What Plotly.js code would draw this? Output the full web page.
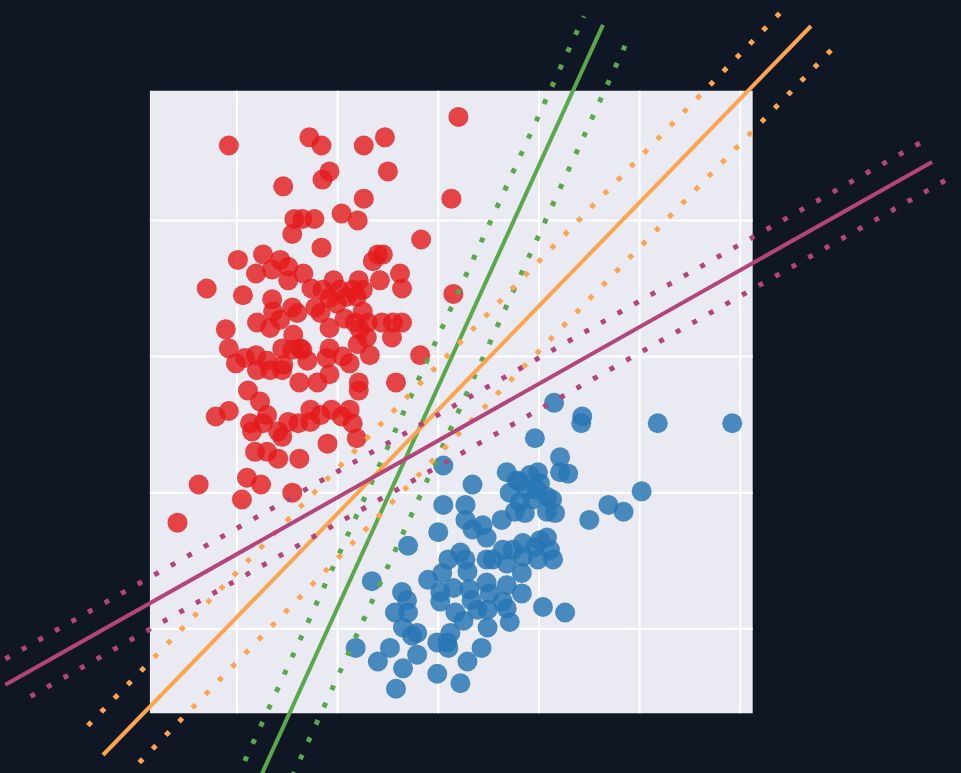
<!DOCTYPE html>
<html>
<head>
<meta charset="utf-8">
<script src="https://cdn.plot.ly/plotly-3.0.1.min.js"></script>
<style>
  html, body { margin: 0; padding: 0; background: #0f1725; }
  #plot { width: 961px; height: 773px; }
</style>
</head>
<body>
<div id="plot"></div>
<script>
// two point clouds and three separating lines with their margins

const redX = [-2.08, -1.28, -1.16, -0.74, -0.53, 0.20, -1.08, -1.15, -0.50, -1.54,
  -0.74, 0.13, -1.43, -1.35, -1.23, -0.96, -0.80, -1.45, -1.16, -0.17,
  -1.99, -1.74, -1.57, -1.65, -1.49, -1.34, -1.81, -1.49, -0.60, -0.65,
  -0.55, -0.38, -0.58, -0.36, -2.30, -1.94, 0.15, -1.04, -0.79, -1.26,
  -1.65, -1.15, -0.98, -0.85, -0.75, -0.91, -0.81, -1.08, -1.22, -1.17,
  -1.01, -1.45, -1.40, -1.64, -1.80, -1.67, -1.57, -1.44, -1.37, -1.08,
  -0.93, -0.83, -0.75, -0.70, -0.78, -0.56, -0.45, -0.36, -0.46, -0.71,
  -0.80, -0.18, -0.68, -2.11, -2.08, -1.92, -2.01, -1.81, -1.70, -1.55,
  -1.45, -1.35, -1.08, -1.11, -0.95, -0.88, -1.30, -1.54, -1.80, -1.67,
  -1.55, -1.08, -1.20, -1.38, -0.79, -0.79, -0.42, -1.89, -1.77, -1.70,
  -1.87, -1.85, -1.74, -2.08, -2.21, -1.49, -1.39, -1.27, -1.27, -1.17,
  -1.55, -1.59, -1.06, -0.96, -0.88, -0.85, -0.81, -1.10, -1.82, -1.70,
  -1.59, -1.38, -2.38, -1.90, -1.76, -1.95, -1.45, -2.59];
const redY = [2.55, 2.61, 2.55, 2.55, 2.61, 2.76, 2.36, 2.30, 2.36, 2.25,
  2.16, 2.16, 2.01, 2.01, 2.01, 2.05, 2.00, 1.90, 1.80, 1.86,
  1.71, 1.75, 1.71, 1.64, 1.66, 1.61, 1.61, 1.56, 1.75, 1.70,
  1.75, 1.61, 1.56, 1.50, 1.50, 1.45, 1.46, 1.56, 1.56, 1.50,
  1.42, 1.49, 1.49, 1.49, 1.49, 1.44, 1.44, 1.43, 1.36, 1.32,
  1.39, 1.36, 1.32, 1.33, 1.25, 1.21, 1.27, 1.16, 1.06, 1.21,
  1.28, 1.25, 1.33, 1.25, 1.20, 1.25, 1.25, 1.25, 1.14, 1.14,
  1.09, 1.01, 1.01, 1.20, 1.06, 0.99, 0.95, 1.01, 0.97, 1.06,
  1.05, 1.05, 1.06, 0.99, 1.00, 0.95, 0.97, 0.94, 0.90, 0.90,
  0.90, 0.87, 0.81, 0.81, 0.81, 0.75, 0.81, 0.75, 0.67, 0.57,
  0.51, 0.45, 0.51, 0.60, 0.56, 0.52, 0.51, 0.61, 0.52, 0.57,
  0.41, 0.45, 0.61, 0.56, 0.61, 0.51, 0.40, 0.36, 0.30, 0.30,
  0.25, 0.25, 0.06, 0.11, 0.06, -0.05, 0.00, -0.22];

const blueX = [1.15, 1.43, 1.42, 0.96, 0.05, 1.21, 1.21, 1.29, 0.34, 0.68,
  0.78, 0.71, 0.91, 0.99, 0.88, 0.98, 0.94, 1.08, 1.13, 0.81,
  0.76, 0.86, 1.08, 1.16, 0.63, 0.05, 0.27, 0.27, 0.00, 0.34,
  0.44, 0.48, 1.69, 1.50, 1.84, 2.18, 2.92, 2.02, 1.01, 0.81,
  0.84, 1.01, 1.08, 1.11, 1.14, 0.99, 0.84, 0.74, 0.64, 0.54,
  0.48, 0.83, 0.68, 0.96, -0.30, -0.66, -0.36, -0.31, -0.43, -0.30,
  -0.35, -0.26, -0.21, -0.48, -0.60, -0.82, -0.35, -0.21, -0.42, -0.01,
  0.22, 0.29, 0.43, -0.10, 0.04, 0.10, 0.22, 0.27, 0.29, 0.02,
  0.02, 0.15, 0.31, 0.33, 0.17, 0.25, 0.48, 0.51, 0.68, 0.83,
  0.64, 0.68, 0.39, 0.49, 1.04, 1.26, 0.71, 0.49, 0.12, -0.01,
  0.09, 0.10];
const blueY = [0.66, 0.56, 0.51, 0.40, 0.20, 0.26, 0.15, 0.14, 0.06, 0.15,
  0.09, 0.00, 0.13, 0.15, 0.02, 0.02, -0.05, -0.03, -0.05, -0.07,
  -0.14, -0.15, -0.14, -0.15, -0.20, -0.09, -0.09, -0.20, -0.29, -0.27,
  -0.24, -0.33, -0.09, -0.20, -0.14, 0.51, 0.51, 0.01, 0.07, 0.08,
  -0.37, -0.35, -0.33, -0.42, -0.49, -0.49, -0.47, -0.42, -0.42, -0.49,
  -0.49, -0.59, -0.52, -0.40, -0.39, -0.65, -0.73, -0.79, -0.88, -0.88,
  -0.99, -1.05, -1.03, -1.14, -1.24, -1.14, -1.29, -1.19, -1.44, -1.33,
  -1.40, -1.24, -1.14, -0.64, -0.59, -0.49, -0.44, -0.49, -0.58, -0.73,
  -0.80, -0.70, -0.71, -0.79, -0.88, -0.94, -0.66, -0.74, -0.68, -0.74,
  -0.80, -0.85, -0.86, -0.86, -0.84, -0.88, -0.95, -0.99, -1.03, -1.10,
  -1.10, -1.14];

// fitted lines: green, orange, purple
const fitColors = ['#5aa74c', '#fda44f', '#b3457a'];
const fitSlopes = [1.624, 0.7615, 0.4172];
const fitIntercepts = [0.780, 0.609, 0.383];
const fitXStart = [-1.80, -3.33, -4.30];
const fitXEnd = [1.636, 3.702, 4.904];
// dotted margin lines, as shifts of the intercept
const upperShift = [0.37, 0.33, 0.19];
const upperXStart = [-2.00, -3.48, -4.30];
const upperXEnd = [1.447, 3.452, 4.884];
const lowerShift = [-0.51, -0.33, -0.19];
const lowerXStart = [-1.45, -2.97, -4.05];
const lowerXEnd = [1.892, 3.95, 5.10];

// grid of the light panel
const gridX = [-2, -1, 0, 1, 2, 3];
const gridY = [-1, 0, 1, 2];

const panel = { x0: -2.864, x1: 3.123, y0: -1.621, y1: 2.953 };
const bg = '#0f1725';

function lineTrace(m, b, xa, xb, color, width, dash) {
  return {
    type: 'scatter',
    mode: 'lines',
    x: [xa, xb],
    y: [m * xa + b, m * xb + b],
    line: { color: color, width: width, dash: dash },
    hoverinfo: 'skip',
    showlegend: false,
  };
}

const data = [
  {
    type: 'scatter',
    mode: 'markers',
    x: redX,
    y: redY,
    marker: { color: '#e41a1c', size: 20, opacity: 0.8, line: { width: 0 } },
    hoverinfo: 'skip',
    showlegend: false,
  },
  {
    type: 'scatter',
    mode: 'markers',
    x: blueX,
    y: blueY,
    marker: { color: '#2876b4', size: 20, opacity: 0.84, line: { width: 0 } },
    hoverinfo: 'skip',
    showlegend: false,
  },
];

for (let i = 0; i < fitSlopes.length; i++) {
  const m = fitSlopes[i], b = fitIntercepts[i], c = fitColors[i];
  data.push(lineTrace(m, b + upperShift[i], upperXStart[i], upperXEnd[i], c, 5, '5px,14px'));
  data.push(lineTrace(m, b + lowerShift[i], lowerXStart[i], lowerXEnd[i], c, 5, '5px,14px'));
  data.push(lineTrace(m, b, fitXStart[i], fitXEnd[i], c, 4, 'solid'));
}

const shapes = [{
  type: 'rect', xref: 'x', yref: 'y', layer: 'below',
  x0: panel.x0, x1: panel.x1, y0: panel.y0, y1: panel.y1,
  fillcolor: '#eaeaf2', line: { width: 0 },
}];
gridX.forEach(g => shapes.push({
  type: 'line', xref: 'x', yref: 'y', layer: 'below',
  x0: g, x1: g, y0: panel.y0, y1: panel.y1,
  line: { color: '#ffffff', width: 2 },
}));
gridY.forEach(g => shapes.push({
  type: 'line', xref: 'x', yref: 'y', layer: 'below',
  x0: panel.x0, x1: panel.x1, y0: g, y1: g,
  line: { color: '#ffffff', width: 2 },
}));

const layout = {
  width: 961,
  height: 773,
  margin: { l: 0, r: 0, t: 0, b: 0, pad: 0 },
  paper_bgcolor: bg,
  plot_bgcolor: bg,
  showlegend: false,
  xaxis: { range: [-4.353, 5.192], visible: false, showgrid: false, zeroline: false, fixedrange: true },
  yaxis: { range: [-2.059, 3.619], visible: false, showgrid: false, zeroline: false, fixedrange: true },
  shapes: shapes,
};

Plotly.newPlot('plot', data, layout, { displayModeBar: false, staticPlot: true });
</script>
</body>
</html>
